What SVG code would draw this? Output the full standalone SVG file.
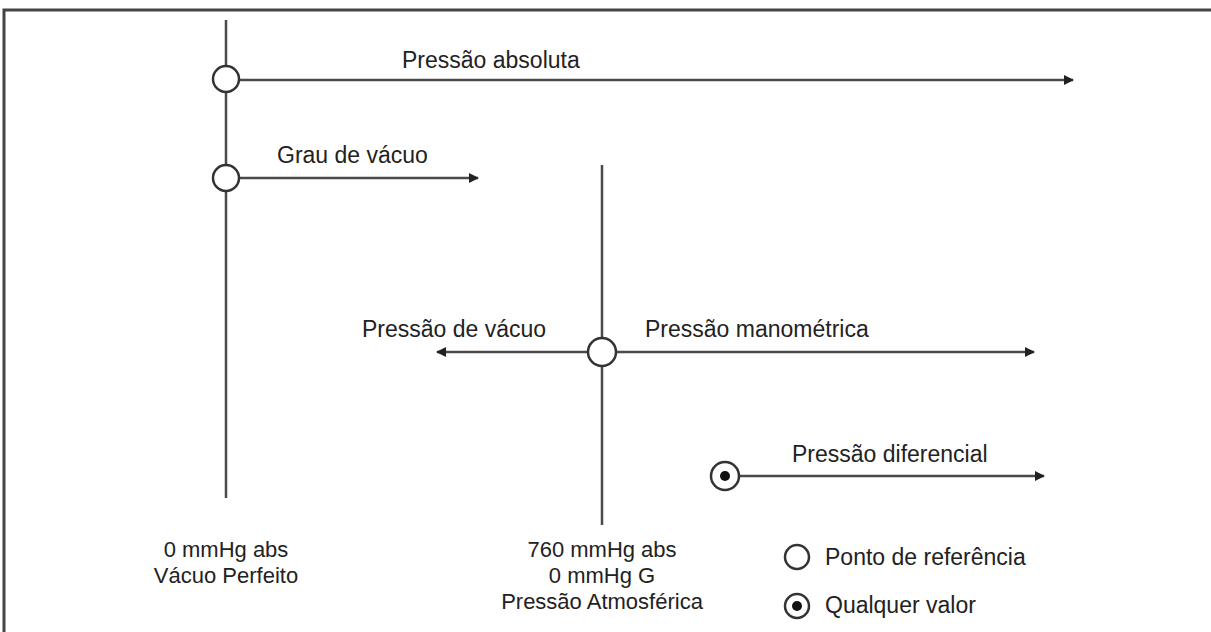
<svg xmlns="http://www.w3.org/2000/svg" width="1211" height="632" viewBox="0 0 1211 632">
<style>
.ln{stroke:#4a4a4a;stroke-width:2.5;fill:none}
.arr{stroke:#4a4a4a;stroke-width:2.5;fill:none;marker-end:url(#ah)}
.ref{stroke:#333;stroke-width:2.5;fill:#fff}
.dot{fill:#111}
text{font-family:"Liberation Sans",Arial,sans-serif;font-size:23px;fill:#222}
.s{font-size:22px}
.c{text-anchor:middle}
</style>
<defs>
<marker id="ah" viewBox="0 0 10 10" refX="9" refY="5" markerWidth="4" markerHeight="4" orient="auto" markerUnits="strokeWidth">
<path d="M0,0 L10,5 L0,10 z" fill="#222"/>
</marker>
</defs>
<rect width="1211" height="632" fill="#fff"/>
<g id="frame">
<path d="M4,632 V10 H1211" stroke="#444" stroke-width="3" fill="none"/>
</g>
<g id="connectors">
<line class="ln" x1="226" y1="20" x2="226" y2="498"/>
<line class="ln" x1="602" y1="165" x2="602" y2="525"/>
<line class="arr" x1="240" y1="80" x2="1073" y2="80"/>
<line class="arr" x1="240" y1="178" x2="478" y2="178"/>
<line class="arr" x1="588" y1="352" x2="437" y2="352"/>
<line class="arr" x1="616" y1="352" x2="1034" y2="352"/>
<line class="arr" x1="739" y1="476" x2="1044" y2="476"/>
</g>
<g id="node-absoluta">
<circle class="ref" cx="226" cy="79" r="13"/>
<text x="402" y="68">Pressão absoluta</text>
</g>
<g id="node-grau">
<circle class="ref" cx="226" cy="178" r="13"/>
<text x="277" y="163">Grau de vácuo</text>
</g>
<g id="node-atm">
<circle class="ref" cx="602" cy="352" r="14"/>
<text x="362" y="337">Pressão de vácuo</text>
<text x="645" y="337">Pressão manométrica</text>
</g>
<g id="node-diferencial">
<circle class="ref" cx="725" cy="476" r="14"/>
<circle class="dot" cx="725" cy="476" r="5"/>
<text x="792" y="462">Pressão diferencial</text>
</g>
<g id="label-zero">
<text class="c s" x="226" y="557">0 mmHg abs</text>
<text class="c s" x="226" y="583">Vácuo Perfeito</text>
</g>
<g id="label-760">
<text class="c s" x="602" y="557">760 mmHg abs</text>
<text class="c s" x="602" y="583">0 mmHg G</text>
<text class="c s" x="602" y="609">Pressão Atmosférica</text>
</g>
<g id="legend">
<circle class="ref" cx="797" cy="557" r="12"/>
<text x="825" y="565">Ponto de referência</text>
<circle class="ref" cx="797" cy="606" r="12"/>
<circle class="dot" cx="797" cy="606" r="5"/>
<text x="825" y="613">Qualquer valor</text>
</g>
</svg>
